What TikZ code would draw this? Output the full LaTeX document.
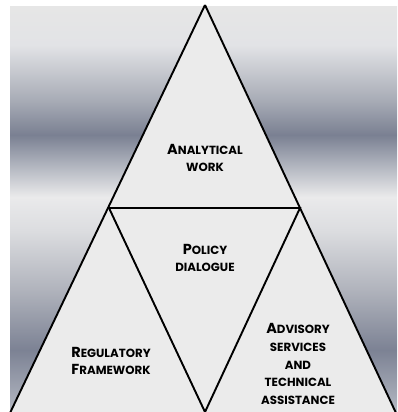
\documentclass[tikz,border=0pt]{standalone}
\usepackage{fontspec}
\setmainfont{Poppins}
\definecolor{bgA}{HTML}{B4B8C2}
\definecolor{bgB}{HTML}{7C8294}
\definecolor{bgC}{HTML}{B0B3BC}
\definecolor{bgD}{HTML}{DCDDE0}
\definecolor{bgE}{HTML}{EAEAEB}
\definecolor{bgF}{HTML}{B0B4BE}
\definecolor{bgG}{HTML}{7A8092}
\definecolor{bgH}{HTML}{A8ACB6}
\definecolor{bgI}{HTML}{E2E3E6}
\definecolor{bgJ}{HTML}{E6E6E6}
\definecolor{trifill}{HTML}{EBEBEB}
\pgfdeclareverticalshading{bands}{100bp}{%
color(0bp)=(bgA); color(25bp)=(bgA); color(32.65bp)=(bgB); color(40.05bp)=(bgC); color(47.45bp)=(bgD);
color(51.55bp)=(bgE); color(55.5bp)=(bgF); color(59.2bp)=(bgG); color(63.5bp)=(bgH);
color(70.3bp)=(bgI); color(75bp)=(bgJ); color(100bp)=(bgJ)}
\newcommand\capA[1]{{\fontsize{14.5}{17.6}\selectfont #1}}
\tikzset{
  lbl/.style={align=center, font=\fontsize{11.8}{17.6}\selectfont\bfseries, text=black, inner sep=0pt},
  edge/.style={line width=1.9pt, line join=miter},
}
\begin{document}
\begin{tikzpicture}[x=1pt,y=-1pt]
\useasboundingbox (0,0) rectangle (397,412);
\shade[shading=bands] (10,7) rectangle (397,412);
\coordinate (apex) at (205,5);
\coordinate (bl) at (10,413);
\coordinate (br) at (396,413);
\coordinate (ml) at (109,208);
\coordinate (mr) at (300,208);
\coordinate (bm) at (205,412);
\fill[trifill] (apex) -- (bl) -- (br) -- cycle;
\draw[edge] (apex) -- (bl);
\draw[edge] (apex) -- (br);
\draw[edge] (ml) -- (mr) -- (bm) -- cycle;
\node[lbl] (aw) at (205,158) {\capA{A}NALYTICAL\\WORK};
\node[lbl] (pd) at (205,258) {\capA{P}OLICY\\DIALOGUE};
\node[lbl] (rf) at (111,361) {\capA{R}EGULATORY\\\capA{F}RAMEWORK};
\node[lbl] (as) at (298,364) {\capA{A}DVISORY\\SERVICES\\AND\\TECHNICAL\\ASSISTANCE};
\end{tikzpicture}
\end{document}
